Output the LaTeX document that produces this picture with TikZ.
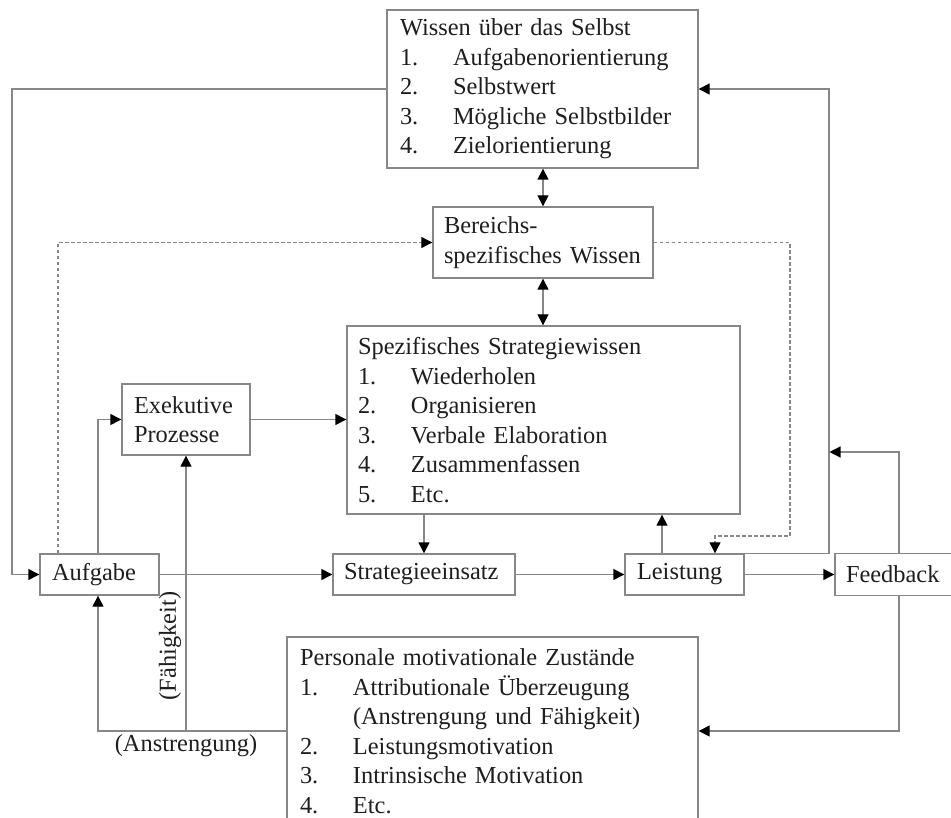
\documentclass[tikz,border=0pt]{standalone}
\usepackage{fontspec}
\setmainfont{Liberation Serif}
\usetikzlibrary{arrows.meta}
\definecolor{linegray}{RGB}{135,135,135}
\definecolor{inkc}{RGB}{30,30,30}
\tikzset{
  box/.style={draw=linegray, line width=1.4pt, rectangle, inner ysep=0pt, align=left,
    font=\fontsize{24.4}{29.5}\selectfont, text=inkc, fill=white},
  conn/.style={draw=linegray, line width=1.4pt},
  arr/.style={conn, -{Triangle[length=11pt,width=11pt,color=black]}},
  darr/.style={conn, {Triangle[length=11pt,width=11pt,color=black]}-{Triangle[length=11pt,width=11pt,color=black]}},
  dsh/.style={dash pattern=on 3.5pt off 2.5pt, line width=1.1pt},
  lbl/.style={font=\fontsize{24.4}{29.5}\selectfont, text=inkc, inner sep=0pt}
}
\newcommand{\itm}[1]{\makebox[53pt][l]{#1}}
\begin{document}
\begin{tikzpicture}[x=1pt,y=-1pt]
\useasboundingbox (0,0) rectangle (951,818);
\clip (0,0) rectangle (951,818);
% boxes
\node[box, minimum width=311pt, minimum height=158pt, text width=285pt, inner xsep=13pt] (wissen) at (542.5,89)
 {Wissen über das Selbst\\ \itm{1.}Aufgabenorientierung\\ \itm{2.}Selbstwert\\ \itm{3.}Mögliche Selbstbilder\\ \itm{4.}Zielorientierung};
\node[box, minimum width=220pt, minimum height=71pt, text width=202pt, inner xsep=9pt] (bereichs) at (543,242.5)
 {\hspace*{2pt}Bereichs-\\ \hspace*{2pt}spezifisches Wissen};
\node[box, minimum width=393pt, minimum height=188pt, text width=371pt, inner xsep=11pt] (spez) at (543.5,420)
 {Spezifisches Strategiewissen\\ \itm{1.}Wiederholen\\ \itm{2.}Organisieren\\ \itm{3.}Verbale Elaboration\\ \itm{4.}Zusammenfassen\\ \itm{5.}Etc.};
\node[box, minimum width=128pt, minimum height=71pt, text width=104pt, inner xsep=12pt] (exek) at (186,419.5)
 {Exekutive\\ Prozesse};
\node[box, minimum width=119pt, minimum height=41pt, text width=95pt, inner xsep=12pt] (aufgabe) at (99.5,574.5) {Aufgabe};
\node[box, minimum width=182pt, minimum height=41pt, text width=160pt, inner xsep=11pt] (strat) at (424,574.5) {Strategieeinsatz};
\node[box, minimum width=119pt, minimum height=41pt, text width=95pt, inner xsep=12pt] (leistung) at (684.5,574.5) {Leistung};
\node[box, minimum width=122pt, minimum height=42pt, text width=100pt, inner xsep=11pt] (feedback) at (896,574.5) {Feedback};
\node[box, minimum width=411pt, minimum height=188pt, text width=385pt, inner xsep=13pt] (pers) at (492.5,731)
 {Personale motivationale Zustände\\ \itm{1.}Attributionale Überzeugung\\ \itm{}(Anstrengung und Fähigkeit)\\ \itm{2.}Leistungsmotivation\\ \itm{3.}Intrinsische Motivation\\ \itm{4.}Etc.};
% helper coordinates
\coordinate (lx) at (12,0);
\coordinate (rx) at (829,0);
\coordinate (fbx) at (899,452);
\coordinate (fbin) at (829.5,452);
\coordinate (dlx) at (58,0);
\coordinate (drc) at (790,536);
\coordinate (drl) at (715,536);
\coordinate (ax) at (98,0);
\coordinate (lsx) at (662,0);
% connectors
\draw[arr] (wissen.west) -- (lx |- wissen.west) |- (aufgabe.west);
\draw[arr] (leistung.north east) -- (rx |- leistung.north east) -- (rx |- wissen.east) -- (wissen.east);
\draw[arr] (fbx |- feedback.north) -- (fbx) -- (fbin);
\draw[arr] (fbx |- feedback.south) |- (pers.east);
\draw[darr] (wissen.south -| bereichs.north) -- (bereichs.north);
\draw[darr] (bereichs.south) -- (bereichs.south |- spez.north);
\draw[arr, dsh] (dlx |- aufgabe.north) |- (bereichs.west);
\draw[arr, dsh] (bereichs.east) -| (drc) -- (drl) -- (drl |- leistung.north);
\draw[arr] (ax |- aufgabe.north) |- (exek.west);
\draw[arr] (exek.east) -- (exek.east -| spez.west);
\draw[arr] (strat.north |- spez.south) -- (strat.north);
\draw[arr] (lsx |- leistung.north) -- (lsx |- spez.south);
\draw[arr] (aufgabe.east) -- (strat.west);
\draw[arr] (strat.east) -- (leistung.west);
\draw[arr] (leistung.east) -- (feedback.west);
\draw[arr] (pers.west) -| (ax |- aufgabe.south);
\draw[arr] (exek.south |- pers.west) -- (exek.south);
% labels
\node[lbl, rotate=90] (faeh) at (170,646) {(Fähigkeit)};
\node[lbl] (anstr) at (186,746) {(Anstrengung)};
\end{tikzpicture}
\end{document}
